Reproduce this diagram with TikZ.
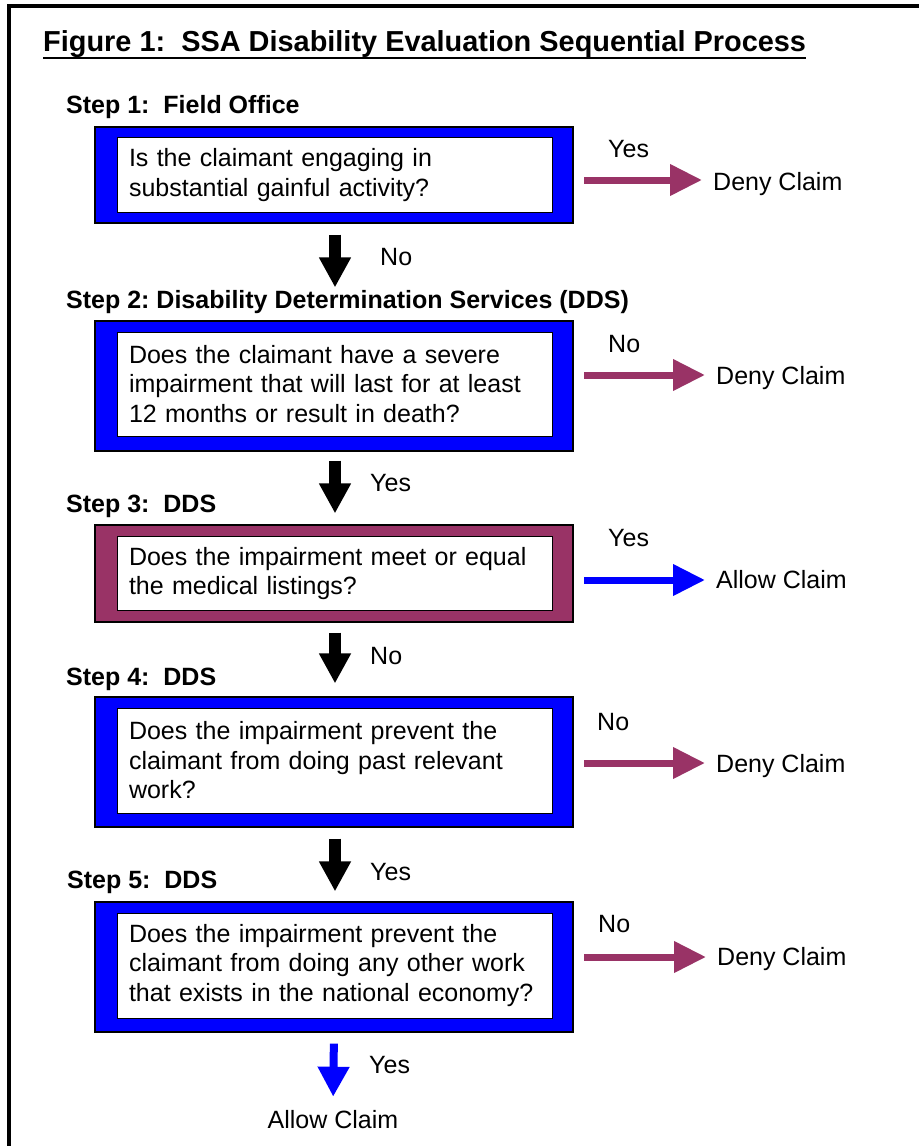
\documentclass[tikz,border=0pt]{standalone}
\usepackage{fontspec}
\setmainfont{Liberation Sans}
\usetikzlibrary{arrows.meta}
\definecolor{ssablue}{HTML}{0000FF}
\definecolor{ssaplum}{HTML}{993366}
\begin{document}
\begin{tikzpicture}[x=1pt,y=-1pt,
    every node/.style={inner sep=0pt,font=\frenchspacing\fontsize{25}{29.5}\selectfont},
    lbl/.style={anchor=base west},
    steplbl/.style={anchor=base west,font=\frenchspacing\fontsize{25}{30}\selectfont\bfseries},
    outerbox/.style={draw=black,line width=1.2pt,fill=ssablue,minimum width=478pt},
    innerbox/.style={draw=black,line width=1pt,fill=white,minimum width=435pt,
        text width=411pt,inner xsep=12pt,align=left},
    downarrow/.style={line width=12pt,-{Triangle[length=30pt,width=30pt]}},
    sidearrow/.style={line width=7pt,ssaplum,-{Triangle[length=32pt,width=30pt]}}]
    \useasboundingbox (0,0) rectangle (919,1146);
    %% frame
    \draw[line width=4pt] (9,1146) -- (9,6) -- (919,6);
    %% title
    \node[anchor=base west,font=\frenchspacing\fontsize{28.9}{34}\selectfont\bfseries] (title) at (43,51)
        {Figure 1:~ SSA Disability Evaluation Sequential Process};
    \draw[line width=2.5pt] ([yshift=-7pt]title.base west) -- ([yshift=-7pt]title.base east);
    %% step 1
    \node[steplbl] (st1) at (66,113) {Step 1:~ Field Office};
    \node[outerbox,minimum height=96pt] (box1) at (334,175) {};
    \node[innerbox,minimum height=75pt] (q1) at ([xshift=0.5pt]box1.center)
        {Is the claimant engaging in\\substantial gainful activity?};
    \node[lbl] (yes1) at (608,157) {Yes};
    \node[lbl] (deny1) at (713,190) {Deny Claim};
    \coordinate (s1) at (584,180);
    \draw[sidearrow,shorten >=11pt] (s1) -- (s1 -| deny1.west);
    %% step 2
    \node[steplbl] (st2) at (66,308) {Step 2: Disability Determination Services (DDS)};
    \node[outerbox,minimum height=130pt] (box2) at (334,386) {};
    \node[innerbox,minimum height=104pt] (q2) at ([xshift=0.5pt,yshift=2pt]box2.center)
        {Does the claimant have a severe\\impairment that will last for at least\\12 months or result in death?};
    \node[lbl] (no2) at (608,352) {No};
    \node[lbl] (deny2) at (716,384) {Deny Claim};
    \coordinate (s2) at (584,375);
    \draw[sidearrow,shorten >=11pt] (s2) -- (s2 -| deny2.west);
    \draw[downarrow,shorten <=11pt,shorten >=33pt] ([xshift=1pt]box1.south) -- ([xshift=1pt]box2.north);
    \node[lbl] (no1) at (380,265) {No};
    %% step 3
    \node[steplbl] (st3) at (66,512) {Step 3:~ DDS};
    \node[outerbox,fill=ssaplum,minimum height=97pt] (box3) at (334,573.5) {};
    \node[innerbox,minimum height=74pt] (q3) at ([xshift=0.5pt]box3.center)
        {Does the impairment meet or equal\\the medical listings?};
    \node[lbl] (yes3) at (608,546) {Yes};
    \node[lbl] (allow3) at (716,588) {Allow Claim};
    \coordinate (s3) at (584,580);
    \draw[sidearrow,ssablue,shorten >=11pt] (s3) -- (s3 -| allow3.west);
    \draw[downarrow,shorten <=9pt,shorten >=11pt] ([xshift=1pt]box2.south) -- ([xshift=1pt]box3.north);
    \node[lbl] (yes2) at (370,491) {Yes};
    %% step 4
    \node[steplbl] (st4) at (66,685) {Step 4:~ DDS};
    \node[outerbox,minimum height=130pt] (box4) at (334,762) {};
    \node[innerbox,minimum height=105pt] (q4) at ([xshift=0.5pt,yshift=1.5pt]box4.center)
        {Does the impairment prevent the\\claimant from doing past relevant\\work?};
    \node[lbl] (no4) at (597,730) {No};
    \node[lbl] (deny4) at (716,772) {Deny Claim};
    \coordinate (s4) at (584,763);
    \draw[sidearrow,shorten >=11pt] (s4) -- (s4 -| deny4.west);
    \draw[downarrow,shorten <=10pt,shorten >=13pt] ([xshift=1pt]box3.south) -- ([xshift=1pt]box4.north);
    \node[lbl] (no3) at (370,664) {No};
    %% step 5
    \node[steplbl] (st5) at (67,888) {Step 5:~ DDS};
    \node[outerbox,minimum height=130pt] (box5) at (334,967) {};
    \node[innerbox,minimum height=105pt] (q5) at ([xshift=0.5pt,yshift=1.5pt]box5.center)
        {Does the impairment prevent the\\claimant from doing any other work\\that exists in the national economy?};
    \node[lbl] (no5) at (598,932) {No};
    \node[lbl] (deny5) at (717,965) {Deny Claim};
    \coordinate (s5) at (584,957);
    \draw[sidearrow,shorten >=11pt] (s5) -- (s5 -| deny5.west);
    \draw[downarrow,shorten <=11pt,shorten >=10pt] ([xshift=1pt]box4.south) -- ([xshift=1pt]box5.north);
    \node[lbl] (yes4) at (370,880) {Yes};
    %% last step
    \node[anchor=base] (allow5) at (333,1128) {Allow Claim};
    \draw[downarrow,line width=8pt,ssablue,shorten <=11pt,shorten >=13pt] (box5.south) -- (allow5.north);
    \node[lbl] (yes5) at (369,1073) {Yes};
\end{tikzpicture}
\end{document}
